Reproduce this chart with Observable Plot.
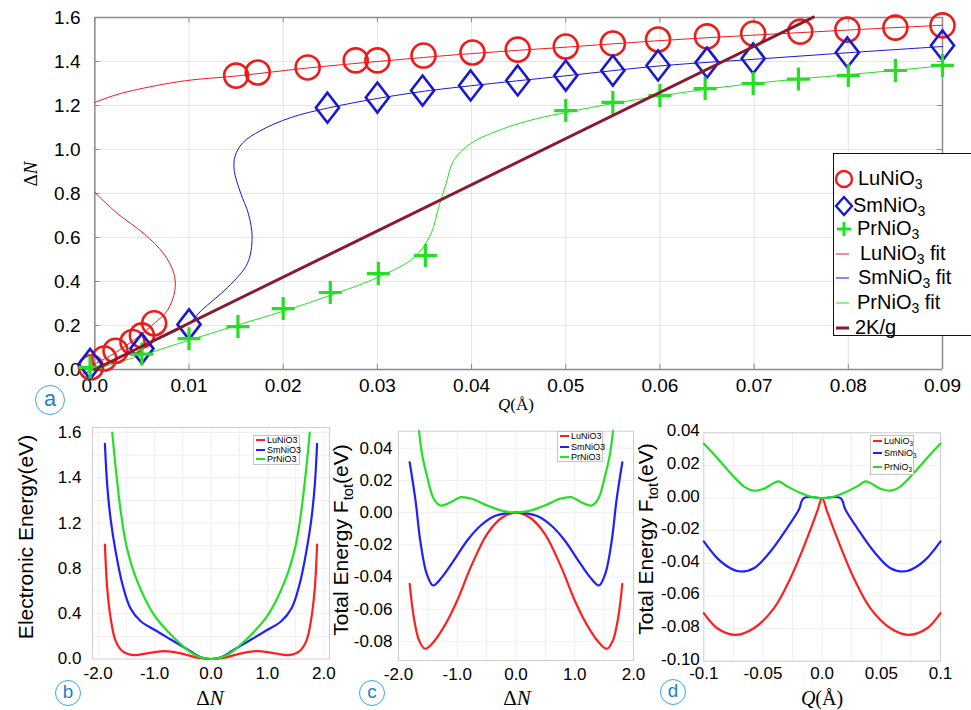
<!DOCTYPE html>
<html><head><meta charset="utf-8">
<script src="https://cdn.jsdelivr.net/npm/d3@7"></script>
<script src="https://cdn.jsdelivr.net/npm/@observablehq/plot@0.6"></script>
<style>
body{margin:0;background:#fff;}
#fig{position:relative;width:971px;height:710px;overflow:hidden;background:#fff;font-family:"Liberation Sans",Arial,sans-serif;}
.panel{position:absolute;}
.panel svg{overflow:visible;}
.lbl{position:absolute;white-space:nowrap;color:#000;transform:translate(-50%,-50%);line-height:1;}
.rot{transform:translate(-50%,-50%) rotate(-90deg);}
.serif{font-family:"Liberation Serif","Times New Roman",serif;}
.circ{position:absolute;border:1.6px solid #3aa6ea;border-radius:50%;color:#1f7fc4;text-align:center;box-sizing:border-box;background:#fff;}
.bigleg{position:absolute;left:833px;top:153px;width:150px;height:183px;border:1.6px solid #111;background:#fff;box-sizing:border-box;}
.bigleg .row{position:absolute;left:0;font-size:20px;line-height:20px;white-space:nowrap;}
.bigleg sub,.smleg sub{font-size:0.7em;vertical-align:-0.25em;line-height:0;}
.smleg{position:absolute;border:1px solid #c4c4c4;background:#fff;box-sizing:border-box;font-size:9px;}
.smleg .row{position:absolute;white-space:nowrap;line-height:9px;}
.smleg .sw{display:inline-block;width:9px;height:2px;vertical-align:middle;margin-right:2px;position:relative;top:-1px;}
</style></head>
<body>
<div id="fig"></div>
<script>
// ---------------- Panel a data ----------------
const aXTicks = [0,0.01,0.02,0.03,0.04,0.05,0.06,0.07,0.08,0.09];
const aXLabels = ["0.0","0.01","0.02","0.03","0.04","0.05","0.06","0.07","0.08","0.09"];
const aYTicks = [0,0.2,0.4,0.6,0.8,1.0,1.2,1.4,1.6];
const aYLabels = ["0.0","0.2","0.4","0.6","0.8","1.0","1.2","1.4","1.6"];

const luQ = [-0.0004,0.0010,0.0022,0.0040,0.0050,0.0063,0.0150,0.0173,0.0226,0.0277,0.0300,0.0349,0.0401,0.0449,0.0500,0.0550,0.0598,0.0650,0.0699,0.0749,0.0799,0.0850,0.0900];
const luN = [0.01,0.05,0.085,0.125,0.155,0.21,1.336,1.35,1.373,1.405,1.405,1.427,1.441,1.454,1.468,1.482,1.50,1.514,1.527,1.536,1.545,1.554,1.564];
const smQ = [-0.0005,0.0050,0.0100,0.0247,0.0300,0.0348,0.0399,0.0449,0.0500,0.0550,0.0598,0.0650,0.0699,0.0799,0.0900];
const smN = [0.025,0.095,0.205,1.19,1.236,1.268,1.291,1.314,1.336,1.359,1.382,1.395,1.414,1.441,1.473];
const prQ = [-0.0005,0.0050,0.0100,0.0152,0.0200,0.0250,0.0301,0.0351,0.0500,0.0550,0.0600,0.0648,0.0699,0.0747,0.0800,0.0850,0.0900];
const prN = [0.01,0.07,0.14,0.195,0.277,0.35,0.436,0.518,1.177,1.214,1.245,1.277,1.30,1.32,1.336,1.359,1.382];

const luFitUpQ = [0,0.002,0.004,0.0095,0.015,0.0225,0.03,0.04,0.05,0.06,0.07,0.08,0.09];
const luFitUpN = [1.214,1.245,1.268,1.312,1.334,1.37,1.40,1.436,1.465,1.495,1.52,1.543,1.565];
const luFitLoQ = [0,0.0024,0.0052,0.0073,0.0084,0.0085,0.0077,0.0063,0.0041,0.0017,-0.0012];
const luFitLoN = [0.805,0.709,0.618,0.527,0.436,0.359,0.268,0.209,0.132,0.064,0];
const smFitQ = [-0.0012,0.0051,0.0100,0.0113,0.0141,0.0162,0.0167,0.0163,0.0155,0.0148,0.0149,0.0157,0.0176,0.0208,0.0247,0.0300,0.0350,0.0400,0.0500,0.0600,0.0700,0.0800,0.0900];
const smFitN = [-0.02,0.105,0.21,0.268,0.373,0.482,0.60,0.709,0.80,0.905,0.97,1.03,1.086,1.145,1.188,1.232,1.265,1.29,1.335,1.38,1.41,1.44,1.468];
const prFitQ = [-0.0012,0.005,0.010,0.015,0.020,0.024,0.030,0.0339,0.0357,0.0365,0.0373,0.0381,0.0399,0.0434,0.047,0.050,0.055,0.060,0.065,0.070,0.075,0.080,0.085,0.090];
const prFitN = [-0.015,0.065,0.133,0.20,0.265,0.322,0.418,0.509,0.618,0.736,0.845,0.95,1.027,1.095,1.141,1.168,1.209,1.243,1.275,1.30,1.322,1.34,1.36,1.38];
const kgQ = [0,0.0763];
const kgN = [0,1.602];

// ---------------- Panels b, c, d data ----------------
const seriesNames = ["LuNiO3","SmNiO3","PrNiO3"];
const seriesColors = ["#ff1f1f","#1f1fff","#22e022"];

const bXTicks = [-2,-1,0,1,2];
const bXLabels = ["-2.0","-1.0","0.0","1.0","2.0"];
const bYTicks = [0,0.4,0.8,1.2,1.4,1.6];
const bYLabels = ["0.0","0.4","0.8","1.2","1.4","1.6"];
const bXGrid = [-2,-1.5,-1,-0.5,0,0.5,1,1.5,2];
const bYGrid = [0.2,0.4,0.6,0.8,1.0,1.2,1.3,1.4,1.5,1.6];
const bLuX = [-1.88,-1.84,-1.78,-1.69,-1.57,-1.37,-1.13,-0.81,-0.54,-0.24,0,0.24,0.54,0.81,1.13,1.37,1.57,1.69,1.78,1.84,1.88];
const bLuY = [1.01,0.63,0.365,0.16,0.07,0.035,0.05,0.07,0.05,0.012,0,0.012,0.05,0.07,0.05,0.035,0.07,0.16,0.365,0.63,1.01];
const bSmX = [-1.88,-1.84,-1.78,-1.69,-1.57,-1.43,-1.25,-1.01,-0.72,-0.42,-0.19,0,0.19,0.42,0.72,1.01,1.25,1.43,1.57,1.69,1.78,1.84,1.88];
const bSmY = [1.55,1.37,1.22,0.95,0.66,0.45,0.335,0.26,0.174,0.086,0.018,0,0.018,0.086,0.174,0.26,0.335,0.45,0.66,0.95,1.22,1.37,1.55];
const bPrX = [-1.75,-1.69,-1.60,-1.49,-1.31,-1.01,-0.66,-0.30,0,0.30,0.66,1.01,1.31,1.49,1.60,1.69,1.75];
const bPrY = [1.6,1.446,1.253,0.98,0.69,0.39,0.19,0.04,0,0.04,0.19,0.39,0.69,0.98,1.253,1.446,1.6];

const cXTicks = [-2,-1,0,1,2];
const cXLabels = ["-2.0","-1.0","0.0","1.0","2.0"];
const cYTicks = [-0.08,-0.06,-0.04,-0.02,0,0.02,0.04];
const cYLabels = ["-0.08","-0.06","-0.04","-0.02","0.00","0.02","0.04"];
const cXGrid = [-1.5,-1,-0.5,0,0.5,1,1.5];
const cLuX = [-1.81,-1.74,-1.65,-1.55,-1.43,-1.23,-1.0,-0.77,-0.49,-0.24,0,0.24,0.49,0.77,1.0,1.23,1.43,1.55,1.65,1.74,1.81];
const cLuY = [-0.0442,-0.065,-0.0794,-0.0846,-0.0815,-0.0712,-0.0546,-0.0339,-0.0132,-0.0032,0,-0.0032,-0.0132,-0.0339,-0.0546,-0.0712,-0.0815,-0.0846,-0.0794,-0.065,-0.0442];
const cSmX = [-1.81,-1.71,-1.63,-1.52,-1.41,-1.26,-1.06,-0.83,-0.60,-0.38,-0.15,0,0.15,0.38,0.60,0.83,1.06,1.26,1.41,1.52,1.63,1.71,1.81];
const cSmY = [0.0313,0.0075,-0.0173,-0.038,-0.0453,-0.0401,-0.0298,-0.0173,-0.008,-0.0024,-0.0003,0,-0.0003,-0.0024,-0.008,-0.0173,-0.0298,-0.0401,-0.0453,-0.038,-0.0173,0.0075,0.0313];
const cPrX = [-1.65,-1.60,-1.51,-1.40,-1.29,-1.11,-0.94,-0.75,-0.49,-0.21,0,0.21,0.49,0.75,0.94,1.11,1.29,1.40,1.51,1.60,1.65];
const cPrY = [0.0506,0.0365,0.022,0.0086,0.0044,0.0065,0.0096,0.0086,0.0044,0.0009,0,0.0009,0.0044,0.0086,0.0096,0.0065,0.0044,0.0086,0.022,0.0365,0.0506];

const dXTicks = [-0.1,-0.05,0,0.05,0.1];
const dXLabels = ["-0.1","-0.05","0.0","0.05","0.1"];
const dYTicks = [-0.1,-0.08,-0.06,-0.04,-0.02,0,0.02,0.04];
const dYLabels = ["-0.10","-0.08","-0.06","-0.04","-0.02","0.00","0.02","0.04"];
const dXGrid = [-0.075,-0.05,-0.025,0,0.025,0.05,0.075];
const dLuX = [-0.1,-0.0887,-0.0732,-0.0577,-0.0408,-0.0268,-0.0127,-0.0042,0,0.0042,0.0127,0.0268,0.0408,0.0577,0.0732,0.0887,0.1];
const dLuY = [-0.0706,-0.0798,-0.0839,-0.0798,-0.0676,-0.0491,-0.0246,-0.0082,0,-0.0082,-0.0246,-0.0491,-0.0676,-0.0798,-0.0839,-0.0798,-0.0706];
const dSmX = [-0.1,-0.0887,-0.0775,-0.069,-0.0577,-0.0437,-0.0296,-0.0197,-0.0155,0,0.0155,0.0197,0.0296,0.0437,0.0577,0.069,0.0775,0.0887,0.1];
const dSmY = [-0.0266,-0.0368,-0.043,-0.045,-0.043,-0.0328,-0.0184,-0.0072,0,0,0,-0.0072,-0.0184,-0.0328,-0.043,-0.045,-0.043,-0.0368,-0.0266];
const dPrX = [-0.1,-0.0887,-0.0775,-0.0662,-0.0577,-0.0493,-0.0408,-0.0366,-0.0296,-0.0183,-0.007,0,0.007,0.0183,0.0296,0.0366,0.0408,0.0493,0.0577,0.0662,0.0775,0.0887,0.1];
const dPrY = [0.0334,0.0246,0.0154,0.0072,0.0045,0.0057,0.0092,0.0102,0.0072,0.0031,0.0004,0,0.0004,0.0031,0.0072,0.0102,0.0092,0.0057,0.0045,0.0072,0.0154,0.0246,0.0334];

// ---------------- helpers ----------------
const zip = (xs, ys) => xs.map((x, i) => ({x, y: ys[i]}));
const FONT = '"Liberation Sans", Arial, sans-serif';
const fig = document.getElementById("fig");
function place(el, left, top) {
  const d = document.createElement("div");
  d.className = "panel"; d.style.left = left + "px"; d.style.top = top + "px";
  d.appendChild(el); fig.appendChild(d);
}
function label(html, cx, cy, size, extra = "") {
  const d = document.createElement("div");
  d.className = "lbl " + extra;
  d.style.left = cx + "px"; d.style.top = cy + "px"; d.style.fontSize = size + "px";
  d.innerHTML = html; fig.appendChild(d);
}
function letter(t, cx, cy, r) {
  const d = document.createElement("div");
  d.className = "circ";
  d.style.left = (cx - r) + "px"; d.style.top = (cy - r) + "px";
  d.style.width = 2 * r + "px"; d.style.height = 2 * r + "px";
  d.style.fontSize = (r * 1.45) + "px"; d.style.lineHeight = (2 * r - 4) + "px";
  d.textContent = t; fig.appendChild(d);
}
const fmtFrom = (ticks, labels) => d => labels[ticks.findIndex(t => Math.abs(t - d) < 1e-9)];

// custom symbols
const diamondSym = {draw(ctx, size) { const r = Math.sqrt(size / Math.PI); const w = r * 0.77;
  ctx.moveTo(0, -r); ctx.lineTo(w, 0); ctx.lineTo(0, r); ctx.lineTo(-w, 0); ctx.closePath(); }};
const plusSym = {draw(ctx, size) { const r = Math.sqrt(size / Math.PI);
  ctx.moveTo(-r, 0); ctx.lineTo(r, 0); ctx.moveTo(0, -r); ctx.lineTo(0, r); }};

// ---------------- Panel a ----------------
const RED = "#ee1b1b", BLUE = "#1717d6", GREEN = "#22e022", KG = "#8c1830";
const frameA = "#8c8c8c";
const pa = Plot.plot({
  width: 971, height: 420, marginLeft: 83, marginRight: 29, marginTop: 17, marginBottom: 51,
  x: {domain: [-0.0012, 0.09]}, y: {domain: [0, 1.6]},
  style: {fontFamily: FONT, background: "transparent", color: "#000"},
  marks: [
    Plot.ruleX(aXTicks, {x: d => d, y1: 0, y2: 1.6, stroke: "#e4e4e4"}),
    Plot.ruleY(aYTicks, {y: d => d, x1: 0, x2: 0.09, stroke: "#e4e4e4"}),
    Plot.ruleX(aXTicks, {x: d => d, y1: 0, y2: 0.024, stroke: frameA}),
    Plot.ruleX(aXTicks, {x: d => d, y1: 1.576, y2: 1.6, stroke: frameA}),
    Plot.ruleY(aYTicks, {y: d => d, x1: 0, x2: 0.00055, stroke: frameA}),
    Plot.ruleY(aYTicks, {y: d => d, x1: 0.08945, x2: 0.09, stroke: frameA}),
    Plot.ruleX([0, 0.09], {x: d => d, y1: 0, y2: 1.6, stroke: frameA, strokeWidth: 1.5}),
    Plot.ruleY([1.6], {y: d => d, x1: 0, x2: 0.09, stroke: frameA, strokeWidth: 1.5}),
    Plot.ruleY([0], {y: d => d, x1: -0.0012, x2: 0.09, stroke: frameA, strokeWidth: 1.5}),
    Plot.axisX(aXTicks, {tickSize: 0, tickPadding: 9, fontSize: 19, tickFormat: fmtFrom(aXTicks, aXLabels), label: null}),
    Plot.axisY(aYTicks, {tickSize: 0, tickPadding: 3, fontSize: 19, tickFormat: fmtFrom(aYTicks, aYLabels), label: null}),
    Plot.line(zip(luFitUpQ, luFitUpN), {x: "x", y: "y", stroke: RED, strokeWidth: 1, curve: "catmull-rom"}),
    Plot.line(zip(luFitLoQ, luFitLoN), {x: "x", y: "y", stroke: RED, strokeWidth: 1, curve: "catmull-rom"}),
    Plot.line(zip(smFitQ, smFitN), {x: "x", y: "y", stroke: BLUE, strokeWidth: 1, curve: "catmull-rom"}),
    Plot.line(zip(prFitQ, prFitN), {x: "x", y: "y", stroke: GREEN, strokeWidth: 1, curve: "catmull-rom"}),
    Plot.dot(zip(luQ, luN), {x: "x", y: "y", r: 12, stroke: RED, strokeWidth: 2.6, fill: "none"}),
    Plot.dot(zip(smQ, smN), {x: "x", y: "y", r: 15, symbol: diamondSym, stroke: BLUE, strokeWidth: 2.6, fill: "none"}),
    Plot.dot(zip(prQ, prN), {x: "x", y: "y", r: 11.5, symbol: plusSym, stroke: GREEN, strokeWidth: 3.2, fill: "none"}),
    Plot.line(zip(kgQ, kgN), {x: "x", y: "y", stroke: KG, strokeWidth: 3})
  ]
});
place(pa, 0, 0);

// ---------------- Panels b, c, d ----------------
function lines3(xsArr, ysArr) {
  return xsArr.map((xs, k) => Plot.line(zip(xs, ysArr[k]), {x: "x", y: "y", stroke: seriesColors[k], strokeWidth: 2.2, curve: "catmull-rom"}));
}
// panel b's y axis is stretched above 1.2 (labels 1.2, 1.4, 1.6 are as far apart as 0.0, 0.4, 0.8)
const bStretch = v => v <= 1.2 ? v : 1.2 + (v - 1.2) * 2;
const pb = Plot.plot({
  width: 334, height: 290, marginLeft: 92, marginRight: 5, marginTop: 27, marginBottom: 31.5,
  x: {domain: [-2.1, 2.1]}, y: {transform: bStretch, domain: [0, 2.044]},
  style: {fontFamily: FONT, background: "transparent", color: "#000"},
  marks: [
    Plot.ruleX(bXGrid, {x: d => d, y1: 0, y2: 1.622, stroke: "#efefef"}),
    Plot.ruleY(bYGrid, {y: d => d, x1: -2.1, x2: 2.1, stroke: "#efefef"}),
    Plot.frame({stroke: "#cfcfcf"}),
    Plot.axisX(bXTicks, {tickSize: 0, tickPadding: 8, fontSize: 17, tickFormat: fmtFrom(bXTicks, bXLabels), label: null}),
    Plot.axisY(bYTicks, {tickSize: 0, tickPadding: 11, fontSize: 17, tickFormat: fmtFrom(bYTicks, bYLabels), label: null}),
    ...lines3([bLuX, bSmX, bPrX], [bLuY, bSmY, bPrY])
  ]
});
place(pb, 0, 400);

const pc = Plot.plot({
  width: 320, height: 290, marginLeft: 78, marginRight: 7, marginTop: 30.7, marginBottom: 30,
  x: {domain: [-2, 2]}, y: {domain: [-0.0919, 0.0506]},
  style: {fontFamily: FONT, background: "transparent", color: "#000"},
  marks: [
    Plot.ruleX(cXGrid, {x: d => d, y1: -0.0919, y2: 0.0506, stroke: "#efefef"}),
    Plot.ruleY(cYTicks, {y: d => d, x1: -2, x2: 2, stroke: "#efefef"}),
    Plot.frame({stroke: "#cfcfcf"}),
    Plot.axisX(cXTicks, {tickSize: 0, tickPadding: 7, fontSize: 17, tickFormat: fmtFrom(cXTicks, cXLabels), label: null}),
    Plot.axisY(cYTicks, {tickSize: 0, tickPadding: 6, fontSize: 17, tickFormat: fmtFrom(cYTicks, cYLabels), label: null}),
    ...lines3([cLuX, cSmX, cPrX], [cLuY, cSmY, cPrY])
  ]
});
place(pc, 320, 400);

const pd = Plot.plot({
  width: 331, height: 290, marginLeft: 63.3, marginRight: 31, marginTop: 32.3, marginBottom: 29.3,
  x: {domain: [-0.1, 0.1]}, y: {domain: [-0.1, 0.04]},
  style: {fontFamily: FONT, background: "transparent", color: "#000"},
  marks: [
    Plot.ruleX(dXGrid, {x: d => d, y1: -0.1, y2: 0.04, stroke: "#efefef"}),
    Plot.ruleY(dYTicks, {y: d => d, x1: -0.1, x2: 0.1, stroke: "#efefef"}),
    Plot.frame({stroke: "#cfcfcf"}),
    Plot.axisX(dXTicks, {tickSize: 0, tickPadding: 6, fontSize: 17, tickFormat: fmtFrom(dXTicks, dXLabels), label: null}),
    Plot.axisY(dYTicks, {tickSize: 0, tickPadding: 4, fontSize: 17, tickFormat: fmtFrom(dYTicks, dYLabels), label: null, dy: -2}),
    ...lines3([dLuX, dSmX, dPrX], [dLuY, dSmY, dPrY])
  ]
});
place(pd, 640, 400);

// ---------------- Titles / axis labels ----------------
label('&Delta;<i>N</i>', 30, 174, 19, "rot serif");
label('<i>Q</i>(Å)', 516, 404, 17, "serif");
label('Electronic Energy(eV)', 25, 537, 21, "rot");
label('&Delta;<i>N</i>', 210, 698, 21, "serif");
label('Total Energy F<sub style="font-size:0.7em">tot</sub>(eV)', 343, 540, 21, "rot");
label('&Delta;<i>N</i>', 517, 698, 21, "serif");
label('Total Energy F<sub style="font-size:0.7em">tot</sub>(eV)', 648, 539, 21, "rot");
label('<i>Q</i>(Å)', 822, 698, 20, "serif");

letter("a", 50, 400, 15);
letter("b", 68, 693, 13);
letter("c", 372, 693, 13);
letter("d", 673, 692, 13);

// ---------------- Legend panel a ----------------
const bigLeg = document.createElement("div");
bigLeg.className = "bigleg";
const legItems = [
  {t: 'LuNiO<sub>3</sub>', kind: "circle", c: RED, tx: 24},
  {t: 'SmNiO<sub>3</sub>', kind: "diamond", c: BLUE, tx: 19},
  {t: 'PrNiO<sub>3</sub>', kind: "plus", c: GREEN, tx: 23},
  {t: 'LuNiO<sub>3</sub> fit', kind: "line", c: RED, tx: 26, w: 1},
  {t: 'SmNiO<sub>3</sub> fit', kind: "line", c: BLUE, tx: 24, w: 1},
  {t: 'PrNiO<sub>3</sub> fit', kind: "line", c: GREEN, tx: 23, w: 1},
  {t: '2K/g', kind: "line", c: KG, tx: 21, w: 3}
];
const legY = [25, 52, 75, 100, 124, 149, 174];
legItems.forEach((it, i) => {
  const row = document.createElement("div");
  row.className = "row"; row.style.top = (legY[i] - 11) + "px"; row.style.left = it.tx + "px";
  row.innerHTML = it.t; bigLeg.appendChild(row);
  const s = document.createElementNS("http://www.w3.org/2000/svg", "svg");
  s.setAttribute("width", 24); s.setAttribute("height", 24);
  s.style.position = "absolute"; s.style.left = "-2px"; s.style.top = (legY[i] - 12) + "px";
  let inner = "";
  if (it.kind === "circle") inner = `<circle cx="12" cy="12" r="8" fill="none" stroke="${it.c}" stroke-width="2.4"/>`;
  if (it.kind === "diamond") inner = `<path d="M12,3L20,12L12,21L4,12Z" fill="none" stroke="${it.c}" stroke-width="2.4"/>`;
  if (it.kind === "plus") inner = `<path d="M5,12H19M12,5V19" fill="none" stroke="${it.c}" stroke-width="3"/>`;
  if (it.kind === "line") inner = `<path d="M4,12H17" stroke="${it.c}" stroke-width="${it.w}"/>`;
  s.innerHTML = inner; bigLeg.appendChild(s);
});
fig.appendChild(bigLeg);

// ---------------- Small legends ----------------
function smallLegend(left, top, w, h, rowsY, sub3) {
  const L = document.createElement("div");
  L.className = "smleg";
  L.style.left = left + "px"; L.style.top = top + "px"; L.style.width = w + "px"; L.style.height = h + "px";
  seriesNames.forEach((n, k) => {
    const r = document.createElement("div");
    r.className = "row"; r.style.left = "2px"; r.style.top = (rowsY[k] - 5) + "px";
    const txt = sub3 ? n.replace("3", "<sub>3</sub>") : n;
    r.innerHTML = `<span class="sw" style="background:${seriesColors[k]}"></span>${txt}`;
    L.appendChild(r);
  });
  fig.appendChild(L);
}
smallLegend(253, 435, 47, 30, [5, 15, 24], false);
smallLegend(557, 431, 46, 31, [5, 16, 26], false);
smallLegend(870, 435, 44, 40, [6, 18, 32], true);
</script>
</body></html>
